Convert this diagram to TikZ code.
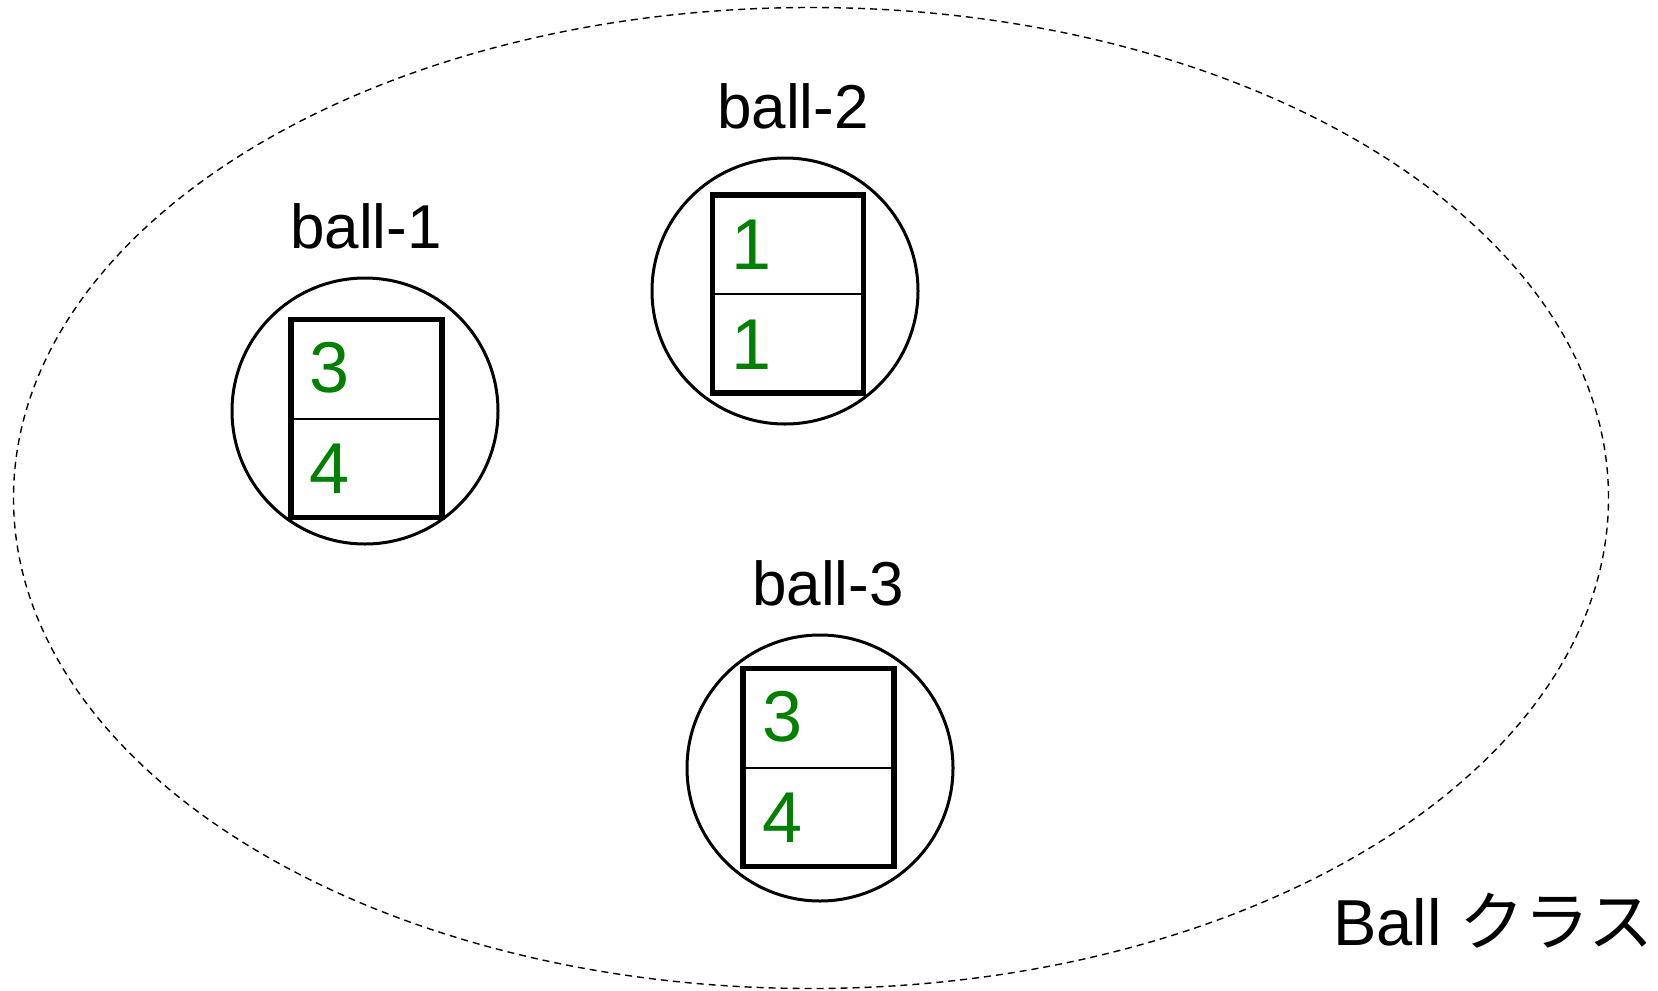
\documentclass[tikz,border=0pt]{standalone}
\usepackage{fontspec}
\setmainfont{Liberation Sans}
\newfontfamily\cjk{Noto Sans CJK JP}
\usetikzlibrary{shapes.geometric}
\definecolor{numgreen}{RGB}{0,128,0}
\begin{document}
\begin{tikzpicture}[x=1pt,y=1pt,
  classbound/.style={ellipse,draw,dashed,dash pattern=on 7pt off 5pt,line width=1.4pt,inner sep=0pt},
  ballcirc/.style={circle,draw,line width=3pt,minimum size=266pt,inner sep=0pt},
  cellbox/.style={rectangle,draw,line width=5.5pt,minimum width=151pt,minimum height=198pt,inner sep=0pt},
  divline/.style={line width=2pt},
  balllabel/.style={anchor=base,font=\fontsize{62}{70}\selectfont},
  numlabel/.style={anchor=base west,inner sep=0pt,text=numgreen,font=\fontsize{72}{80}\selectfont}]
\useasboundingbox (0,0) rectangle (1658,-991);
\node[classbound,minimum width=1595pt,minimum height=981pt] (cls) at (811,-498) {};
% ball-1
\node[ballcirc] (c1) at (365,-411) {};
\node[cellbox] (r1) at (366.5,-418.5) {};
\draw[divline] (r1.west) -- (r1.east);
\node[balllabel] (l1) at (366,-248) {ball-1};
\node[numlabel] (n1a) at (309,-392) {3};
\node[numlabel] (n1b) at (309,-493) {4};
% ball-2
\node[ballcirc] (c2) at (785,-291) {};
\node[cellbox] (r2) at (788,-294) {};
\draw[divline] (r2.west) -- (r2.east);
\node[balllabel] (l2) at (793,-128) {ball-2};
\node[numlabel] (n2a) at (731,-269) {1};
\node[numlabel] (n2b) at (731,-369) {1};
% ball-3
\node[ballcirc] (c3) at (820,-768) {};
\node[cellbox] (r3) at (818.5,-767.5) {};
\draw[divline] (r3.west) -- (r3.east);
\node[balllabel] (l3) at (828,-605) {ball-3};
\node[numlabel] (n3a) at (762,-741) {3};
\node[numlabel] (n3b) at (762,-842) {4};
% class label
\node[anchor=base west,inner sep=0pt,font=\fontsize{65}{72}\selectfont] (cname) at (1333,-945) {Ball {\cjk クラス}};
\end{tikzpicture}
\end{document}
